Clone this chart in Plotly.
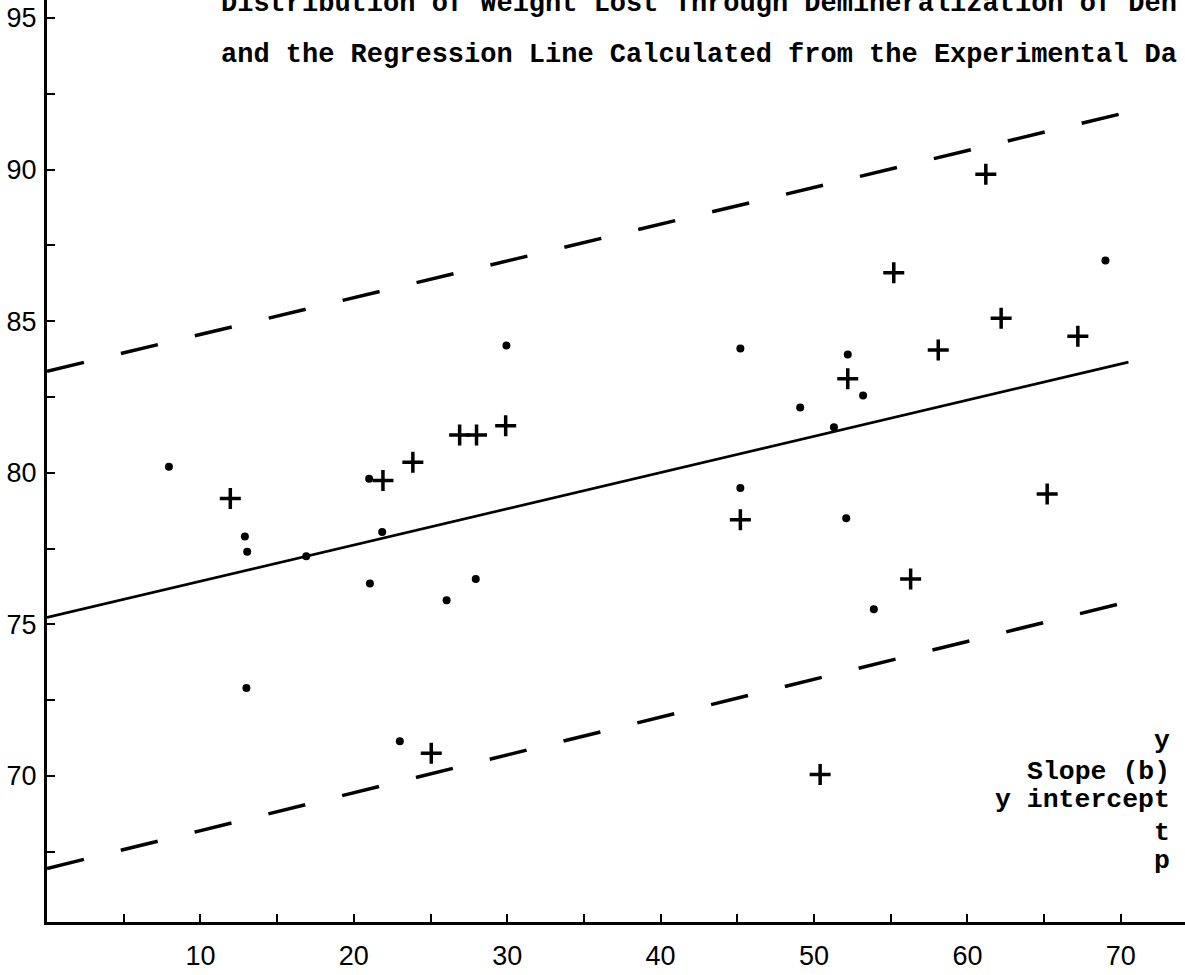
import plotly.graph_objects as go

# ---- data ----
dot_x = [7.95, 12.9, 13.05, 13.0, 16.9, 21.0, 21.05, 21.85, 23.0, 26.05, 27.95,
         29.95, 45.2, 45.2, 49.1, 51.3, 52.2, 52.1, 53.2, 53.9, 69.0]
dot_y = [80.2, 77.9, 77.4, 72.9, 77.25, 79.8, 76.35, 78.05, 71.15, 75.8, 76.5,
         84.2, 84.1, 79.5, 82.15, 81.5, 83.9, 78.5, 82.55, 75.5, 87.0]

cross_x = [11.95, 21.9, 23.85, 25.05, 26.9, 28.0, 29.9, 45.2, 50.4, 52.2,
           55.2, 56.3, 58.1, 61.2, 62.2, 65.2, 67.2]
cross_y = [79.15, 79.75, 80.35, 70.75, 81.25, 81.25, 81.55, 78.45, 70.05, 83.1,
           86.6, 76.5, 84.05, 89.85, 85.1, 79.3, 84.5]

line_x = [0.0, 70.5]
regression_y = [75.23, 83.65]
upper_y = [83.35, 91.9]
lower_y = [66.95, 75.75]

x_tick_vals = [5, 10, 15, 20, 25, 30, 35, 40, 45, 50, 55, 60, 65, 70]
x_tick_text = ["", "10", "", "20", "", "30", "", "40", "", "50", "", "60", "", "70"]
y_tick_vals = [67.5, 70, 72.5, 75, 77.5, 80, 82.5, 85, 87.5, 90, 92.5, 95]
y_tick_text = ["", "70", "", "75", "", "80", "", "85", "", "90", "", "95"]

title_line1 = "Distribution of Weight Lost Through Demineralization of Den"
title_line2 = "and the Regression Line Calculated from the Experimental Da"
stat_labels = ["y", "Slope (b)", "y intercept", "t", "p"]

# ---- figure ----
W, H = 1185, 975
L, R, T, B = 47, 0, 0, 53
plot_h = H - T - B
plot_w = W - L - R

fig = go.Figure()
fig.add_trace(go.Scatter(x=line_x, y=upper_y, mode="lines",
                         line=dict(color="black", width=3.5, dash="38px,38px")))
fig.add_trace(go.Scatter(x=line_x, y=lower_y, mode="lines",
                         line=dict(color="black", width=3.5, dash="38px,38px")))
fig.add_trace(go.Scatter(x=line_x, y=regression_y, mode="lines",
                         line=dict(color="black", width=2.7)))
fig.add_trace(go.Scatter(x=dot_x, y=dot_y, mode="markers",
                         marker=dict(symbol="circle", size=8, color="black")))
fig.add_trace(go.Scatter(x=cross_x, y=cross_y, mode="markers",
                         marker=dict(symbol="cross-thin", size=15, color="black",
                                     line=dict(width=3.5, color="black"))))

tick_font = dict(family="Liberation Sans", size=27, color="black")
mono = "Liberation Mono"

annotations = [
    dict(text="<b>" + title_line1 + "</b>", xref="paper", yref="paper",
         x=(219 - L) / plot_w, y=1 - 4 / plot_h, xanchor="left",
         yanchor="middle", showarrow=False,
         font=dict(family=mono, size=27, color="black")),
    dict(text="<b>" + title_line2 + "</b>", xref="paper", yref="paper",
         x=(219 - L) / plot_w, y=1 - 55 / plot_h, xanchor="left",
         yanchor="middle", showarrow=False,
         font=dict(family=mono, size=27, color="black")),
]
stat_py = [741, 772, 800, 833, 861]
for lab, py in zip(stat_labels, stat_py):
    annotations.append(dict(text="<b>" + lab + "</b>", xref="paper", yref="paper",
                            x=(1172 - L) / plot_w, y=(plot_h - py) / plot_h,
                            xanchor="right", yanchor="middle", showarrow=False,
                            font=dict(family=mono, size=26.5, color="black")))

fig.update_layout(
    width=W, height=H,
    margin=dict(l=L, r=R, t=T, b=B, pad=0),
    paper_bgcolor="white", plot_bgcolor="white",
    showlegend=False,
    annotations=annotations,
    xaxis=dict(range=[0, plot_w / 15.34], showline=True, linewidth=3,
               linecolor="black", ticks="inside", ticklen=8, tickwidth=2,
               tickcolor="black", tickvals=x_tick_vals, ticktext=x_tick_text,
               showgrid=False, zeroline=False, tickfont=tick_font,
               ticklabelstandoff=8),
    yaxis=dict(range=[65.185, 95.594], showline=True, linewidth=3,
               linecolor="black", ticks="inside", ticklen=8, tickwidth=2,
               tickcolor="black", tickvals=y_tick_vals, ticktext=y_tick_text,
               showgrid=False, zeroline=False, tickfont=tick_font,
               ticklabelstandoff=2),
)

fig.write_html("out.html",
               config={"displayModeBar": False},
               post_script="document.body.style.margin='0px';"
                           "document.body.style.padding='0px';")
